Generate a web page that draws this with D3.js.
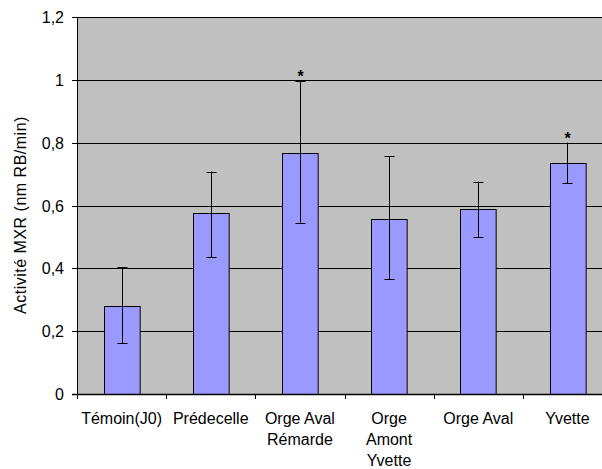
<!DOCTYPE html>
<html>
<head>
<meta charset="UTF-8">
<title>Activité MXR</title>
<script src="https://d3js.org/d3.v7.min.js"></script>
<style>
  body { margin: 0; background: #fff; }
  text { font-family: "Liberation Sans", Arial, sans-serif; }
</style>
</head>
<body>
<svg id="chart" width="602" height="469"></svg>
<script>
// data
const sites = ["Témoin(J0)", "Prédecelle", "Orge Aval\nRémarde", "Orge\nAmont\nYvette", "Orge Aval", "Yvette"];
const means = [0.281, 0.575, 0.768, 0.558, 0.588, 0.736];
const errLow = [0.161, 0.435, 0.545, 0.366, 0.500, 0.671];
const errHigh = [0.403, 0.708, 0.995, 0.757, 0.676, 0.800];
const signif = [false, false, true, false, false, true];
const yTicks = [0, 0.2, 0.4, 0.6, 0.8, 1, 1.2];

const svg = d3.select("#chart");
const pLeft = 77, pRight = 612, pTop = 17, pBottom = 394;

const x = d3.scaleBand().domain(sites).range([pLeft, pRight]).paddingInner(0.6).paddingOuter(0.3);
const xb = d3.scaleBand().domain(sites).range([pLeft, pRight]);
const y = d3.scaleLinear().domain([0, 1.2]).range([pBottom, pTop]);
const fmt = d => String(d).replace(".", ",");

// plot background
svg.append("rect")
  .attr("x", pLeft).attr("y", pTop)
  .attr("width", pRight - pLeft).attr("height", pBottom - pTop)
  .attr("fill", "#c0c0c0");

// gridlines
svg.append("g").selectAll("line")
  .data(yTicks.filter(d => d > 0))
  .join("line")
  .attr("x1", pLeft).attr("x2", pRight)
  .attr("y1", d => Math.round(y(d)) + 0.5).attr("y2", d => Math.round(y(d)) + 0.5)
  .attr("stroke", "#000").attr("stroke-width", 1);

// bars
svg.append("g").selectAll("rect")
  .data(sites)
  .join("rect")
  .attr("x", d => Math.round(x(d)) + 0.5)
  .attr("y", (d, i) => Math.round(y(means[i])) + 0.5)
  .attr("width", x.bandwidth())
  .attr("height", (d, i) => Math.round(y(0)) - Math.round(y(means[i])))
  .attr("fill", "#9999ff")
  .attr("stroke", "#000").attr("stroke-width", 1);

// error bars
const eb = svg.append("g").attr("stroke", "#000").attr("stroke-width", 1);
sites.forEach((s, i) => {
  const cx = Math.round(x(s) + x.bandwidth() / 2) + 0.5;
  eb.append("line").attr("x1", cx).attr("x2", cx).attr("y1", y(errLow[i])).attr("y2", y(errHigh[i]));
  [errLow[i], errHigh[i]].forEach(v => {
    eb.append("line").attr("x1", cx - 5).attr("x2", cx + 5)
      .attr("y1", Math.round(y(v)) + 0.5).attr("y2", Math.round(y(v)) + 0.5);
  });
  if (signif[i]) {
    svg.append("text").attr("x", cx).attr("y", y(errHigh[i]) + 1)
      .attr("text-anchor", "middle").attr("font-size", 16).attr("font-weight", "bold")
      .text("*");
  }
});

// axes lines
svg.append("line").attr("x1", pLeft + 0.5).attr("x2", pLeft + 0.5).attr("y1", pTop).attr("y2", pBottom + 0.5)
  .attr("stroke", "#000");
svg.append("line").attr("x1", pLeft).attr("x2", pRight).attr("y1", pTop + 0.5).attr("y2", pTop + 0.5)
  .attr("stroke", "#000");
svg.append("line").attr("x1", pLeft - 5).attr("x2", pRight).attr("y1", pBottom + 0.5).attr("y2", pBottom + 0.5)
  .attr("stroke", "#000").attr("stroke-width", 1.5);

// y ticks
const yg = svg.append("g");
yTicks.forEach(t => {
  const ty = Math.round(y(t)) + 0.5;
  yg.append("line").attr("x1", pLeft - 5).attr("x2", pLeft).attr("y1", ty).attr("y2", ty).attr("stroke", "#000");
  yg.append("text").attr("x", 64).attr("y", ty).attr("dy", "0.36em")
    .attr("text-anchor", "end").attr("font-size", 16).text(fmt(t));
});

// x ticks
svg.append("g").selectAll("line")
  .data(sites)
  .join("line")
  .attr("x1", d => Math.round(xb(d)) + 0.5).attr("x2", d => Math.round(xb(d)) + 0.5)
  .attr("y1", pBottom).attr("y2", pBottom + 5)
  .attr("stroke", "#000");

// category labels
sites.forEach(s => {
  const t = svg.append("text").attr("text-anchor", "middle").attr("font-size", 16);
  s.split("\n").forEach((ln, j) => {
    t.append("tspan").attr("x", xb(s) + xb.bandwidth() / 2).attr("y", 424 + j * 21).text(ln);
  });
});

// y label
svg.append("text")
  .attr("transform", `translate(26,215) rotate(-90)`)
  .attr("text-anchor", "middle").attr("font-size", 16).attr("letter-spacing", 0.5)
  .text("Activité MXR (nm RB/min)");
</script>
</body>
</html>
